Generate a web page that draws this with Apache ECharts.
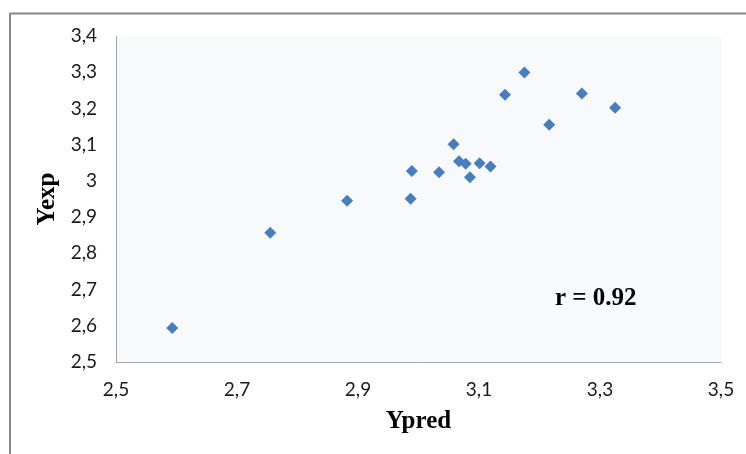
<!DOCTYPE html>
<html>
<head>
<meta charset="utf-8">
<script src="https://cdn.jsdelivr.net/npm/echarts@6/dist/echarts.min.js"></script>
<style>
  html, body { margin: 0; padding: 0; background: #fff; }
  #chart { width: 746px; height: 454px; }
</style>
</head>
<body>
<div id="chart"></div>
<script>
// valeurs
var ypred = [2.593, 2.755, 2.882, 2.987, 2.989, 3.034, 3.058, 3.067, 3.078, 3.085, 3.101, 3.119, 3.143, 3.175, 3.216, 3.270, 3.325];
var yexp  = [2.594, 2.857, 2.945, 2.951, 3.027, 3.024, 3.101, 3.054, 3.047, 3.010, 3.049, 3.040, 3.238, 3.299, 3.155, 3.241, 3.202];
var rLabel = 'r = 0.92';

var points = ypred.map(function (x, i) { return [x, yexp[i]]; });

function virgule(v) {
    return String(parseFloat(v.toFixed(1))).replace('.', ',');
}

var myChart = echarts.init(document.getElementById('chart'));

var option = {
    animation: false,
    grid: {
        left: 116,
        top: 36,
        width: 605,
        height: 326,
        show: true,
        backgroundColor: '#f8f9fb',
        borderWidth: 0
    },
    xAxis: {
        type: 'value',
        min: 2.5,
        max: 3.5,
        interval: 0.2,
        name: 'Ypred',
        nameLocation: 'middle',
        nameGap: 47,
        nameTextStyle: { fontFamily: 'Liberation Serif', fontWeight: 'bold', fontSize: 25, color: '#000' },
        axisLine: { lineStyle: { color: '#a6a6a6', width: 1 } },
        axisTick: { show: false },
        splitLine: { show: false },
        axisLabel: { formatter: virgule, margin: 18, fontFamily: 'Lato', fontSize: 19, color: '#1a1a1a' }
    },
    yAxis: {
        type: 'value',
        min: 2.5,
        max: 3.4,
        interval: 0.1,
        name: 'Yexp',
        nameLocation: 'middle',
        nameGap: 51,
        nameRotate: 90,
        nameTextStyle: { fontFamily: 'Liberation Serif', fontWeight: 'bold', fontSize: 25, color: '#000' },
        axisLine: { lineStyle: { color: '#a6a6a6', width: 1 } },
        axisTick: { show: false },
        splitLine: { show: false },
        axisLabel: { formatter: virgule, margin: 19, fontFamily: 'Lato', fontSize: 19, color: '#1a1a1a' }
    },
    graphic: [
        { type: 'line', shape: { x1: 10, y1: 13.5, x2: 746, y2: 13.5 }, style: { stroke: '#888', lineWidth: 2 } },
        { type: 'line', shape: { x1: 10, y1: 13, x2: 10, y2: 454 }, style: { stroke: '#888', lineWidth: 2 } },
        {
            type: 'text', left: 555, top: 286,
            style: { text: rLabel, fontFamily: 'Liberation Serif', fontWeight: 'bold', fontSize: 25, fill: '#000' }
        }
    ],
    series: [
        {
            type: 'scatter',
            symbol: 'diamond',
            symbolSize: 12,
            itemStyle: { color: '#4a7ebb', opacity: 1 },
            data: points
        }
    ]
};

myChart.setOption(option);
</script>
</body>
</html>
